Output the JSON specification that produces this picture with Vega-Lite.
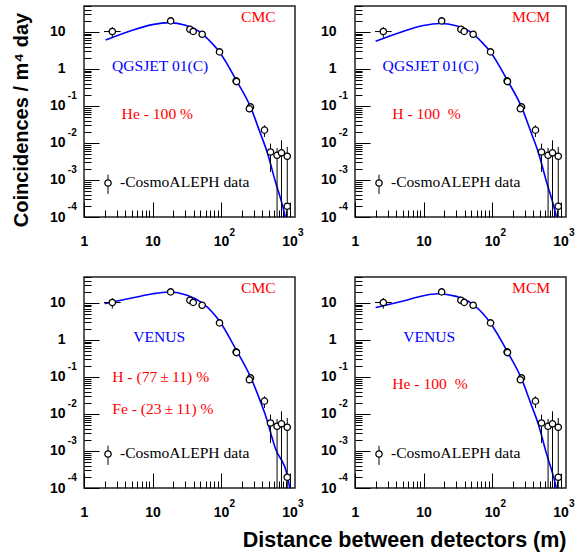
{
"$schema": "https://vega.github.io/schema/vega-lite/v6.json",
"padding": {"left": 10, "top": 4, "right": 2, "bottom": 2},
"background": "white",
"columns": 2,
"spacing": {"row": 60, "column": 60},
"bounds": "flush",
"config": {
 "view": {"stroke": "#222222", "strokeWidth": 1.5},
 "axis": {"domain": false, "grid": false, "tickColor": "black", "tickWidth": 1, "labelFont": "Liberation Sans", "labelFontWeight": "bold", "labelColor": "black", "labelOverlap": false, "labelFlush": false, "labelBound": false, "titleFont": "Liberation Sans", "titleFontWeight": "bold", "titleColor": "black"}
},
"datasets": {
 "points": [
  {"x": 2.59, "y": 10.2, "ylo": 7.0, "yhi": 13.5, "xlo": 1.96, "xhi": 3.43},
  {"x": 18.4, "y": 19.8, "ylo": 18.0, "yhi": 21.8},
  {"x": 35.1, "y": 11.8, "ylo": 11.0, "yhi": 12.6},
  {"x": 39.2, "y": 10.3, "ylo": 9.7, "yhi": 11.0},
  {"x": 53, "y": 8.66, "ylo": 8.1, "yhi": 9.3},
  {"x": 95, "y": 2.88, "ylo": 2.7, "yhi": 3.1},
  {"x": 166, "y": 0.475, "ylo": 0.44, "yhi": 0.51},
  {"x": 168, "y": 0.455, "ylo": 0.42, "yhi": 0.49},
  {"x": 269, "y": 0.094, "ylo": 0.086, "yhi": 0.103},
  {"x": 259, "y": 0.084, "ylo": 0.077, "yhi": 0.092},
  {"x": 430, "y": 0.0222, "ylo": 0.0145, "yhi": 0.0299},
  {"x": 527, "y": 0.0057, "ylo": 0.00164, "yhi": 0.0096},
  {"x": 657, "y": 0.00466, "ylo": 0.000001, "yhi": 0.0073},
  {"x": 762, "y": 0.0054, "ylo": 0.000001, "yhi": 0.0118},
  {"x": 925, "y": 0.00436, "ylo": 0.00026, "yhi": 0.0078},
  {"x": 925, "y": 0.000195, "ylo": 0.000001, "yhi": 0.00026}
 ],
 "legend": [
  {"x": 2.24, "y": 0.00083, "ylo": 0.00042, "yhi": 0.00139, "tx": 3.35, "ty": 0.000647, "text": "-CosmoALEPH data"}
 ],
 "notes": [
  {"panel": 1, "x": 196, "y": 18.6, "text": "CMC", "kind": "det"},
  {"panel": 1, "x": 2.56, "y": 0.9, "text": "QGSJET 01(C)", "kind": "model"},
  {"panel": 1, "x": 3.54, "y": 0.0454, "text": "He - 100 %", "kind": "comp"},
  {"panel": 2, "x": 196, "y": 18.6, "text": "MCM", "kind": "det"},
  {"panel": 2, "x": 2.53, "y": 0.9, "text": "QGSJET 01(C)", "kind": "model"},
  {"panel": 2, "x": 3.5, "y": 0.0454, "text": "H - 100\u00a0 %", "kind": "comp"},
  {"panel": 3, "x": 196, "y": 18.6, "text": "CMC", "kind": "det"},
  {"panel": 3, "x": 5.23, "y": 0.9, "text": "VENUS", "kind": "model"},
  {"panel": 3, "x": 2.58, "y": 0.0733, "text": "H - (77\u2009\u00b1\u200911) %", "kind": "comp"},
  {"panel": 3, "x": 2.58, "y": 0.0098, "text": "Fe - (23\u2009\u00b1\u200911) %", "kind": "comp"},
  {"panel": 4, "x": 196, "y": 18.6, "text": "MCM", "kind": "det"},
  {"panel": 4, "x": 5.06, "y": 0.9, "text": "VENUS", "kind": "model"},
  {"panel": 4, "x": 3.5, "y": 0.047, "text": "He - 100\u00a0 %", "kind": "comp"}
 ],
 "curves": [
  {"panel": 1, "x": 2.07, "y": 6.0}, {"panel": 1, "x": 5.06, "y": 11.1}, {"panel": 1, "x": 9.9, "y": 15.7}, {"panel": 1, "x": 17.3, "y": 17.8},
  {"panel": 1, "x": 30.4, "y": 15.2}, {"panel": 1, "x": 53, "y": 9.0}, {"panel": 1, "x": 70.3, "y": 5.4}, {"panel": 1, "x": 93, "y": 3.0},
  {"panel": 1, "x": 172, "y": 0.446}, {"panel": 1, "x": 269, "y": 0.094}, {"panel": 1, "x": 368, "y": 0.0198}, {"panel": 1, "x": 470, "y": 0.0057},
  {"panel": 1, "x": 623, "y": 0.00088}, {"panel": 1, "x": 823, "y": 0.00015}, {"panel": 1, "x": 865, "y": 0.0001}, {"panel": 1, "x": 1000, "y": 0.00004},
  {"panel": 2, "x": 2.0, "y": 5.6}, {"panel": 2, "x": 5.0, "y": 10.3}, {"panel": 2, "x": 9.9, "y": 14.8}, {"panel": 2, "x": 17.3, "y": 16.9},
  {"panel": 2, "x": 30, "y": 14.6}, {"panel": 2, "x": 53, "y": 8.8}, {"panel": 2, "x": 70, "y": 5.4}, {"panel": 2, "x": 93, "y": 3.0},
  {"panel": 2, "x": 172, "y": 0.45}, {"panel": 2, "x": 269, "y": 0.094}, {"panel": 2, "x": 368, "y": 0.02}, {"panel": 2, "x": 470, "y": 0.0058},
  {"panel": 2, "x": 623, "y": 0.0009}, {"panel": 2, "x": 823, "y": 0.000155}, {"panel": 2, "x": 870, "y": 0.0001}, {"panel": 2, "x": 1000, "y": 0.00004},
  {"panel": 3, "x": 2.0, "y": 9.6}, {"panel": 3, "x": 5.4, "y": 13.9}, {"panel": 3, "x": 10, "y": 17.6}, {"panel": 3, "x": 17.3, "y": 19.6},
  {"panel": 3, "x": 32, "y": 16.1}, {"panel": 3, "x": 53, "y": 10.0}, {"panel": 3, "x": 74, "y": 5.7}, {"panel": 3, "x": 93, "y": 3.4},
  {"panel": 3, "x": 172, "y": 0.48}, {"panel": 3, "x": 269, "y": 0.1}, {"panel": 3, "x": 368, "y": 0.024}, {"panel": 3, "x": 445, "y": 0.0092},
  {"panel": 3, "x": 623, "y": 0.00115}, {"panel": 3, "x": 931, "y": 0.00021}, {"panel": 3, "x": 997, "y": 0.000109}, {"panel": 3, "x": 1100, "y": 0.00005},
  {"panel": 4, "x": 2.0, "y": 7.5}, {"panel": 4, "x": 5.06, "y": 11.3}, {"panel": 4, "x": 10, "y": 15.6}, {"panel": 4, "x": 16, "y": 17.6},
  {"panel": 4, "x": 30, "y": 15.0}, {"panel": 4, "x": 53, "y": 9.0}, {"panel": 4, "x": 74, "y": 5.1}, {"panel": 4, "x": 93, "y": 3.0},
  {"panel": 4, "x": 172, "y": 0.44}, {"panel": 4, "x": 269, "y": 0.09}, {"panel": 4, "x": 368, "y": 0.019}, {"panel": 4, "x": 470, "y": 0.0055},
  {"panel": 4, "x": 623, "y": 0.00085}, {"panel": 4, "x": 823, "y": 0.00015}, {"panel": 4, "x": 865, "y": 0.0001}, {"panel": 4, "x": 1000, "y": 0.00004}
 ]
},
"concat": [
 {"width": 211, "height": 211, "resolve": {"axis": {"x": "independent", "y": "independent"}}, "layer": [
  {"data": {"name": "curves"}, "transform": [{"filter": "datum.panel == 1"}], "mark": {"type": "line", "color": "#0000ff", "strokeWidth": 1.6, "clip": true, "interpolate": "monotone"},
   "encoding": {
    "x": {"field": "x", "type": "quantitative", "scale": {"type": "log", "domain": [1, 1200], "nice": false},
     "axis": {"orient": "bottom", "values": [1,2,3,4,5,6,7,8,9,10,20,30,40,50,60,70,80,90,100,200,300,400,500,600,700,800,900,1000], "labelExpr": "datum.value == 1 ? '1' : (datum.value == 10 || datum.value == 100 || datum.value == 1000) ? '10' : ''", "labelFontSize": {"condition": {"test": "datum.value == 1 || datum.value == 10 || datum.value == 100 || datum.value == 1000", "value": 14}, "value": 0}, "tickSize": {"condition": {"test": "datum.value == 1 || datum.value == 10 || datum.value == 100 || datum.value == 1000", "value": -15}, "value": -7}, "labelPadding": 32, "title": null}},
    "y": {"field": "y", "type": "quantitative", "scale": {"type": "log", "domain": [0.0001, 50], "nice": false},
     "axis": {"orient": "left", "values": [0.0001,0.0002,0.0003,0.0004,0.0005,0.0006,0.0007,0.0008,0.0009,0.001,0.002,0.003,0.004,0.005,0.006,0.007,0.008,0.009,0.01,0.02,0.03,0.04,0.05,0.06,0.07,0.08,0.09,0.1,0.2,0.3,0.4,0.5,0.6,0.7,0.8,0.9,1,2,3,4,5,6,7,8,9,10,20,30,40,50], "labelExpr": "datum.value == 1 ? '1' : (datum.value == 10 || datum.value == 0.1 || datum.value == 0.01 || datum.value == 0.001 || datum.value == 0.0001) ? '10' : ''", "labelFontSize": {"condition": {"test": "datum.value == 10 || datum.value == 1 || datum.value == 0.1 || datum.value == 0.01 || datum.value == 0.001 || datum.value == 0.0001", "value": 14}, "value": 0}, "tickSize": {"condition": {"test": "datum.value == 10 || datum.value == 1 || datum.value == 0.1 || datum.value == 0.01 || datum.value == 0.001 || datum.value == 0.0001", "value": -15}, "value": -7}, "labelPadding": 34,
      "title": "Coincidences / m\u2074 day", "titleFontSize": 20, "titleAngle": 270, "titleAlign": "center", "titleBaseline": "alphabetic", "titleX": -57, "titleY": 113.5}}
   }},
  {"data": {"name": "points"}, "mark": {"type": "rule", "color": "black", "strokeWidth": 1, "clip": true}, "encoding": {"x": {"field": "x", "type": "quantitative", "scale": {"type": "log", "domain": [1, 1200], "nice": false}, "axis": null}, "y": {"field": "ylo", "type": "quantitative", "scale": {"type": "log", "domain": [0.0001, 50], "nice": false}, "axis": null}, "y2": {"field": "yhi"}}},
  {"data": {"name": "points"}, "transform": [{"filter": "isValid(datum.xlo)"}], "mark": {"type": "rule", "color": "black", "strokeWidth": 1, "clip": true}, "encoding": {"x": {"field": "xlo", "type": "quantitative", "scale": {"type": "log", "domain": [1, 1200], "nice": false}, "axis": null}, "x2": {"field": "xhi"}, "y": {"field": "y", "type": "quantitative", "scale": {"type": "log", "domain": [0.0001, 50], "nice": false}, "axis": null}}},
  {"data": {"name": "points"}, "mark": {"type": "point", "shape": "circle", "size": 40, "fill": "white", "stroke": "black", "strokeWidth": 1.3, "opacity": 1, "clip": true}, "encoding": {
    "x": {"field": "x", "type": "quantitative", "scale": {"type": "log", "domain": [1, 1200], "nice": false}, "axis": {"orient": "bottom", "values": [100, 1000], "ticks": false, "labelExpr": "datum.value == 100 ? '2' : '3'", "labelFontSize": 10, "labelAlign": "left", "labelOffset": 8, "labelPadding": 10, "title": null}},
    "y": {"field": "y", "type": "quantitative", "scale": {"type": "log", "domain": [0.0001, 50], "nice": false}, "axis": {"orient": "left", "values": [0.1, 0.01, 0.001, 0.0001], "ticks": false, "labelExpr": "datum.value == 0.1 ? '-1' : datum.value == 0.01 ? '-2' : datum.value == 0.001 ? '-3' : '-4'", "labelFontSize": 10, "labelAlign": "left", "labelOffset": -10.5, "labelPadding": 16.7, "title": null}}}},
  {"data": {"name": "legend"}, "mark": {"type": "rule", "color": "black", "strokeWidth": 1}, "encoding": {"x": {"field": "x", "type": "quantitative", "scale": {"type": "log", "domain": [1, 1200], "nice": false}, "axis": null}, "y": {"field": "ylo", "type": "quantitative", "scale": {"type": "log", "domain": [0.0001, 50], "nice": false}, "axis": null}, "y2": {"field": "yhi"}}},
  {"data": {"name": "legend"}, "mark": {"type": "point", "shape": "circle", "size": 40, "fill": "white", "stroke": "black", "strokeWidth": 1.3, "opacity": 1}, "encoding": {"x": {"field": "x", "type": "quantitative", "scale": {"type": "log", "domain": [1, 1200], "nice": false}, "axis": null}, "y": {"field": "y", "type": "quantitative", "scale": {"type": "log", "domain": [0.0001, 50], "nice": false}, "axis": null}}},
  {"data": {"name": "legend"}, "mark": {"type": "text", "align": "left", "baseline": "alphabetic", "font": "Liberation Serif", "fontSize": 15.6, "color": "black"}, "encoding": {"x": {"field": "tx", "type": "quantitative", "scale": {"type": "log", "domain": [1, 1200], "nice": false}, "axis": null}, "y": {"field": "ty", "type": "quantitative", "scale": {"type": "log", "domain": [0.0001, 50], "nice": false}, "axis": null}, "text": {"field": "text"}}},
  {"data": {"name": "notes"}, "transform": [{"filter": "datum.panel == 1"}], "mark": {"type": "text", "align": "left", "baseline": "alphabetic", "font": "Liberation Serif", "fontSize": 15.6}, "encoding": {"x": {"field": "x", "type": "quantitative", "scale": {"type": "log", "domain": [1, 1200], "nice": false}, "axis": null}, "y": {"field": "y", "type": "quantitative", "scale": {"type": "log", "domain": [0.0001, 50], "nice": false}, "axis": null}, "text": {"field": "text"}, "color": {"field": "kind", "type": "nominal", "scale": {"domain": ["det", "model", "comp"], "range": ["#ff0000", "#0000ff", "#ff0000"]}, "legend": null}}}
 ]},
 {"width": 211, "height": 211, "resolve": {"axis": {"x": "independent", "y": "independent"}}, "layer": [
  {"data": {"name": "curves"}, "transform": [{"filter": "datum.panel == 2"}], "mark": {"type": "line", "color": "#0000ff", "strokeWidth": 1.6, "clip": true, "interpolate": "monotone"},
   "encoding": {
    "x": {"field": "x", "type": "quantitative", "scale": {"type": "log", "domain": [1, 1200], "nice": false},
     "axis": {"orient": "bottom", "values": [1,2,3,4,5,6,7,8,9,10,20,30,40,50,60,70,80,90,100,200,300,400,500,600,700,800,900,1000], "labelExpr": "datum.value == 1 ? '1' : (datum.value == 10 || datum.value == 100 || datum.value == 1000) ? '10' : ''", "labelFontSize": {"condition": {"test": "datum.value == 1 || datum.value == 10 || datum.value == 100 || datum.value == 1000", "value": 14}, "value": 0}, "tickSize": {"condition": {"test": "datum.value == 1 || datum.value == 10 || datum.value == 100 || datum.value == 1000", "value": -15}, "value": -7}, "labelPadding": 32, "title": null}},
    "y": {"field": "y", "type": "quantitative", "scale": {"type": "log", "domain": [0.0001, 50], "nice": false},
     "axis": {"orient": "left", "values": [0.0001,0.0002,0.0003,0.0004,0.0005,0.0006,0.0007,0.0008,0.0009,0.001,0.002,0.003,0.004,0.005,0.006,0.007,0.008,0.009,0.01,0.02,0.03,0.04,0.05,0.06,0.07,0.08,0.09,0.1,0.2,0.3,0.4,0.5,0.6,0.7,0.8,0.9,1,2,3,4,5,6,7,8,9,10,20,30,40,50], "labelExpr": "datum.value == 1 ? '1' : (datum.value == 10 || datum.value == 0.1 || datum.value == 0.01 || datum.value == 0.001 || datum.value == 0.0001) ? '10' : ''", "labelFontSize": {"condition": {"test": "datum.value == 10 || datum.value == 1 || datum.value == 0.1 || datum.value == 0.01 || datum.value == 0.001 || datum.value == 0.0001", "value": 14}, "value": 0}, "tickSize": {"condition": {"test": "datum.value == 10 || datum.value == 1 || datum.value == 0.1 || datum.value == 0.01 || datum.value == 0.001 || datum.value == 0.0001", "value": -15}, "value": -7}, "labelPadding": 34, "title": null}}
   }},
  {"data": {"name": "points"}, "mark": {"type": "rule", "color": "black", "strokeWidth": 1, "clip": true}, "encoding": {"x": {"field": "x", "type": "quantitative", "scale": {"type": "log", "domain": [1, 1200], "nice": false}, "axis": null}, "y": {"field": "ylo", "type": "quantitative", "scale": {"type": "log", "domain": [0.0001, 50], "nice": false}, "axis": null}, "y2": {"field": "yhi"}}},
  {"data": {"name": "points"}, "transform": [{"filter": "isValid(datum.xlo)"}], "mark": {"type": "rule", "color": "black", "strokeWidth": 1, "clip": true}, "encoding": {"x": {"field": "xlo", "type": "quantitative", "scale": {"type": "log", "domain": [1, 1200], "nice": false}, "axis": null}, "x2": {"field": "xhi"}, "y": {"field": "y", "type": "quantitative", "scale": {"type": "log", "domain": [0.0001, 50], "nice": false}, "axis": null}}},
  {"data": {"name": "points"}, "mark": {"type": "point", "shape": "circle", "size": 40, "fill": "white", "stroke": "black", "strokeWidth": 1.3, "opacity": 1, "clip": true}, "encoding": {
    "x": {"field": "x", "type": "quantitative", "scale": {"type": "log", "domain": [1, 1200], "nice": false}, "axis": {"orient": "bottom", "values": [100, 1000], "ticks": false, "labelExpr": "datum.value == 100 ? '2' : '3'", "labelFontSize": 10, "labelAlign": "left", "labelOffset": 8, "labelPadding": 10, "title": null}},
    "y": {"field": "y", "type": "quantitative", "scale": {"type": "log", "domain": [0.0001, 50], "nice": false}, "axis": {"orient": "left", "values": [0.1, 0.01, 0.001, 0.0001], "ticks": false, "labelExpr": "datum.value == 0.1 ? '-1' : datum.value == 0.01 ? '-2' : datum.value == 0.001 ? '-3' : '-4'", "labelFontSize": 10, "labelAlign": "left", "labelOffset": -10.5, "labelPadding": 16.7, "title": null}}}},
  {"data": {"name": "legend"}, "mark": {"type": "rule", "color": "black", "strokeWidth": 1}, "encoding": {"x": {"field": "x", "type": "quantitative", "scale": {"type": "log", "domain": [1, 1200], "nice": false}, "axis": null}, "y": {"field": "ylo", "type": "quantitative", "scale": {"type": "log", "domain": [0.0001, 50], "nice": false}, "axis": null}, "y2": {"field": "yhi"}}},
  {"data": {"name": "legend"}, "mark": {"type": "point", "shape": "circle", "size": 40, "fill": "white", "stroke": "black", "strokeWidth": 1.3, "opacity": 1}, "encoding": {"x": {"field": "x", "type": "quantitative", "scale": {"type": "log", "domain": [1, 1200], "nice": false}, "axis": null}, "y": {"field": "y", "type": "quantitative", "scale": {"type": "log", "domain": [0.0001, 50], "nice": false}, "axis": null}}},
  {"data": {"name": "legend"}, "mark": {"type": "text", "align": "left", "baseline": "alphabetic", "font": "Liberation Serif", "fontSize": 15.6, "color": "black"}, "encoding": {"x": {"field": "tx", "type": "quantitative", "scale": {"type": "log", "domain": [1, 1200], "nice": false}, "axis": null}, "y": {"field": "ty", "type": "quantitative", "scale": {"type": "log", "domain": [0.0001, 50], "nice": false}, "axis": null}, "text": {"field": "text"}}},
  {"data": {"name": "notes"}, "transform": [{"filter": "datum.panel == 2"}], "mark": {"type": "text", "align": "left", "baseline": "alphabetic", "font": "Liberation Serif", "fontSize": 15.6}, "encoding": {"x": {"field": "x", "type": "quantitative", "scale": {"type": "log", "domain": [1, 1200], "nice": false}, "axis": null}, "y": {"field": "y", "type": "quantitative", "scale": {"type": "log", "domain": [0.0001, 50], "nice": false}, "axis": null}, "text": {"field": "text"}, "color": {"field": "kind", "type": "nominal", "scale": {"domain": ["det", "model", "comp"], "range": ["#ff0000", "#0000ff", "#ff0000"]}, "legend": null}}}
 ]},
 {"width": 211, "height": 211, "resolve": {"axis": {"x": "independent", "y": "independent"}}, "layer": [
  {"data": {"name": "curves"}, "transform": [{"filter": "datum.panel == 3"}], "mark": {"type": "line", "color": "#0000ff", "strokeWidth": 1.6, "clip": true, "interpolate": "monotone"},
   "encoding": {
    "x": {"field": "x", "type": "quantitative", "scale": {"type": "log", "domain": [1, 1200], "nice": false},
     "axis": {"orient": "bottom", "values": [1,2,3,4,5,6,7,8,9,10,20,30,40,50,60,70,80,90,100,200,300,400,500,600,700,800,900,1000], "labelExpr": "datum.value == 1 ? '1' : (datum.value == 10 || datum.value == 100 || datum.value == 1000) ? '10' : ''", "labelFontSize": {"condition": {"test": "datum.value == 1 || datum.value == 10 || datum.value == 100 || datum.value == 1000", "value": 14}, "value": 0}, "tickSize": {"condition": {"test": "datum.value == 1 || datum.value == 10 || datum.value == 100 || datum.value == 1000", "value": -15}, "value": -7}, "labelPadding": 32, "title": null}},
    "y": {"field": "y", "type": "quantitative", "scale": {"type": "log", "domain": [0.0001, 50], "nice": false},
     "axis": {"orient": "left", "values": [0.0001,0.0002,0.0003,0.0004,0.0005,0.0006,0.0007,0.0008,0.0009,0.001,0.002,0.003,0.004,0.005,0.006,0.007,0.008,0.009,0.01,0.02,0.03,0.04,0.05,0.06,0.07,0.08,0.09,0.1,0.2,0.3,0.4,0.5,0.6,0.7,0.8,0.9,1,2,3,4,5,6,7,8,9,10,20,30,40,50], "labelExpr": "datum.value == 1 ? '1' : (datum.value == 10 || datum.value == 0.1 || datum.value == 0.01 || datum.value == 0.001 || datum.value == 0.0001) ? '10' : ''", "labelFontSize": {"condition": {"test": "datum.value == 10 || datum.value == 1 || datum.value == 0.1 || datum.value == 0.01 || datum.value == 0.001 || datum.value == 0.0001", "value": 14}, "value": 0}, "tickSize": {"condition": {"test": "datum.value == 10 || datum.value == 1 || datum.value == 0.1 || datum.value == 0.01 || datum.value == 0.001 || datum.value == 0.0001", "value": -15}, "value": -7}, "labelPadding": 34, "title": null}}
   }},
  {"data": {"name": "points"}, "mark": {"type": "rule", "color": "black", "strokeWidth": 1, "clip": true}, "encoding": {"x": {"field": "x", "type": "quantitative", "scale": {"type": "log", "domain": [1, 1200], "nice": false}, "axis": null}, "y": {"field": "ylo", "type": "quantitative", "scale": {"type": "log", "domain": [0.0001, 50], "nice": false}, "axis": null}, "y2": {"field": "yhi"}}},
  {"data": {"name": "points"}, "transform": [{"filter": "isValid(datum.xlo)"}], "mark": {"type": "rule", "color": "black", "strokeWidth": 1, "clip": true}, "encoding": {"x": {"field": "xlo", "type": "quantitative", "scale": {"type": "log", "domain": [1, 1200], "nice": false}, "axis": null}, "x2": {"field": "xhi"}, "y": {"field": "y", "type": "quantitative", "scale": {"type": "log", "domain": [0.0001, 50], "nice": false}, "axis": null}}},
  {"data": {"name": "points"}, "mark": {"type": "point", "shape": "circle", "size": 40, "fill": "white", "stroke": "black", "strokeWidth": 1.3, "opacity": 1, "clip": true}, "encoding": {
    "x": {"field": "x", "type": "quantitative", "scale": {"type": "log", "domain": [1, 1200], "nice": false}, "axis": {"orient": "bottom", "values": [100, 1000], "ticks": false, "labelExpr": "datum.value == 100 ? '2' : '3'", "labelFontSize": 10, "labelAlign": "left", "labelOffset": 8, "labelPadding": 10, "title": null}},
    "y": {"field": "y", "type": "quantitative", "scale": {"type": "log", "domain": [0.0001, 50], "nice": false}, "axis": {"orient": "left", "values": [0.1, 0.01, 0.001, 0.0001], "ticks": false, "labelExpr": "datum.value == 0.1 ? '-1' : datum.value == 0.01 ? '-2' : datum.value == 0.001 ? '-3' : '-4'", "labelFontSize": 10, "labelAlign": "left", "labelOffset": -10.5, "labelPadding": 16.7, "title": null}}}},
  {"data": {"name": "legend"}, "mark": {"type": "rule", "color": "black", "strokeWidth": 1}, "encoding": {"x": {"field": "x", "type": "quantitative", "scale": {"type": "log", "domain": [1, 1200], "nice": false}, "axis": null}, "y": {"field": "ylo", "type": "quantitative", "scale": {"type": "log", "domain": [0.0001, 50], "nice": false}, "axis": null}, "y2": {"field": "yhi"}}},
  {"data": {"name": "legend"}, "mark": {"type": "point", "shape": "circle", "size": 40, "fill": "white", "stroke": "black", "strokeWidth": 1.3, "opacity": 1}, "encoding": {"x": {"field": "x", "type": "quantitative", "scale": {"type": "log", "domain": [1, 1200], "nice": false}, "axis": null}, "y": {"field": "y", "type": "quantitative", "scale": {"type": "log", "domain": [0.0001, 50], "nice": false}, "axis": null}}},
  {"data": {"name": "legend"}, "mark": {"type": "text", "align": "left", "baseline": "alphabetic", "font": "Liberation Serif", "fontSize": 15.6, "color": "black"}, "encoding": {"x": {"field": "tx", "type": "quantitative", "scale": {"type": "log", "domain": [1, 1200], "nice": false}, "axis": null}, "y": {"field": "ty", "type": "quantitative", "scale": {"type": "log", "domain": [0.0001, 50], "nice": false}, "axis": null}, "text": {"field": "text"}}},
  {"data": {"name": "notes"}, "transform": [{"filter": "datum.panel == 3"}], "mark": {"type": "text", "align": "left", "baseline": "alphabetic", "font": "Liberation Serif", "fontSize": 15.6}, "encoding": {"x": {"field": "x", "type": "quantitative", "scale": {"type": "log", "domain": [1, 1200], "nice": false}, "axis": null}, "y": {"field": "y", "type": "quantitative", "scale": {"type": "log", "domain": [0.0001, 50], "nice": false}, "axis": null}, "text": {"field": "text"}, "color": {"field": "kind", "type": "nominal", "scale": {"domain": ["det", "model", "comp"], "range": ["#ff0000", "#0000ff", "#ff0000"]}, "legend": null}}}
 ]},
 {"width": 211, "height": 211, "resolve": {"axis": {"x": "independent", "y": "independent"}}, "layer": [
  {"data": {"name": "curves"}, "transform": [{"filter": "datum.panel == 4"}], "mark": {"type": "line", "color": "#0000ff", "strokeWidth": 1.6, "clip": true, "interpolate": "monotone"},
   "encoding": {
    "x": {"field": "x", "type": "quantitative", "scale": {"type": "log", "domain": [1, 1200], "nice": false},
     "axis": {"orient": "bottom", "values": [1,2,3,4,5,6,7,8,9,10,20,30,40,50,60,70,80,90,100,200,300,400,500,600,700,800,900,1000], "labelExpr": "datum.value == 1 ? '1' : (datum.value == 10 || datum.value == 100 || datum.value == 1000) ? '10' : ''", "labelFontSize": {"condition": {"test": "datum.value == 1 || datum.value == 10 || datum.value == 100 || datum.value == 1000", "value": 14}, "value": 0}, "tickSize": {"condition": {"test": "datum.value == 1 || datum.value == 10 || datum.value == 100 || datum.value == 1000", "value": -15}, "value": -7}, "labelPadding": 32,
      "title": "Distance between detectors (m)", "titleFontSize": 21.5, "titleAngle": 0, "titleAlign": "right", "titleAnchor": "end", "titleBaseline": "alphabetic", "titleX": 211, "titleY": 58}},
    "y": {"field": "y", "type": "quantitative", "scale": {"type": "log", "domain": [0.0001, 50], "nice": false},
     "axis": {"orient": "left", "values": [0.0001,0.0002,0.0003,0.0004,0.0005,0.0006,0.0007,0.0008,0.0009,0.001,0.002,0.003,0.004,0.005,0.006,0.007,0.008,0.009,0.01,0.02,0.03,0.04,0.05,0.06,0.07,0.08,0.09,0.1,0.2,0.3,0.4,0.5,0.6,0.7,0.8,0.9,1,2,3,4,5,6,7,8,9,10,20,30,40,50], "labelExpr": "datum.value == 1 ? '1' : (datum.value == 10 || datum.value == 0.1 || datum.value == 0.01 || datum.value == 0.001 || datum.value == 0.0001) ? '10' : ''", "labelFontSize": {"condition": {"test": "datum.value == 10 || datum.value == 1 || datum.value == 0.1 || datum.value == 0.01 || datum.value == 0.001 || datum.value == 0.0001", "value": 14}, "value": 0}, "tickSize": {"condition": {"test": "datum.value == 10 || datum.value == 1 || datum.value == 0.1 || datum.value == 0.01 || datum.value == 0.001 || datum.value == 0.0001", "value": -15}, "value": -7}, "labelPadding": 34, "title": null}}
   }},
  {"data": {"name": "points"}, "mark": {"type": "rule", "color": "black", "strokeWidth": 1, "clip": true}, "encoding": {"x": {"field": "x", "type": "quantitative", "scale": {"type": "log", "domain": [1, 1200], "nice": false}, "axis": null}, "y": {"field": "ylo", "type": "quantitative", "scale": {"type": "log", "domain": [0.0001, 50], "nice": false}, "axis": null}, "y2": {"field": "yhi"}}},
  {"data": {"name": "points"}, "transform": [{"filter": "isValid(datum.xlo)"}], "mark": {"type": "rule", "color": "black", "strokeWidth": 1, "clip": true}, "encoding": {"x": {"field": "xlo", "type": "quantitative", "scale": {"type": "log", "domain": [1, 1200], "nice": false}, "axis": null}, "x2": {"field": "xhi"}, "y": {"field": "y", "type": "quantitative", "scale": {"type": "log", "domain": [0.0001, 50], "nice": false}, "axis": null}}},
  {"data": {"name": "points"}, "mark": {"type": "point", "shape": "circle", "size": 40, "fill": "white", "stroke": "black", "strokeWidth": 1.3, "opacity": 1, "clip": true}, "encoding": {
    "x": {"field": "x", "type": "quantitative", "scale": {"type": "log", "domain": [1, 1200], "nice": false}, "axis": {"orient": "bottom", "values": [100, 1000], "ticks": false, "labelExpr": "datum.value == 100 ? '2' : '3'", "labelFontSize": 10, "labelAlign": "left", "labelOffset": 8, "labelPadding": 10, "title": null}},
    "y": {"field": "y", "type": "quantitative", "scale": {"type": "log", "domain": [0.0001, 50], "nice": false}, "axis": {"orient": "left", "values": [0.1, 0.01, 0.001, 0.0001], "ticks": false, "labelExpr": "datum.value == 0.1 ? '-1' : datum.value == 0.01 ? '-2' : datum.value == 0.001 ? '-3' : '-4'", "labelFontSize": 10, "labelAlign": "left", "labelOffset": -10.5, "labelPadding": 16.7, "title": null}}}},
  {"data": {"name": "legend"}, "mark": {"type": "rule", "color": "black", "strokeWidth": 1}, "encoding": {"x": {"field": "x", "type": "quantitative", "scale": {"type": "log", "domain": [1, 1200], "nice": false}, "axis": null}, "y": {"field": "ylo", "type": "quantitative", "scale": {"type": "log", "domain": [0.0001, 50], "nice": false}, "axis": null}, "y2": {"field": "yhi"}}},
  {"data": {"name": "legend"}, "mark": {"type": "point", "shape": "circle", "size": 40, "fill": "white", "stroke": "black", "strokeWidth": 1.3, "opacity": 1}, "encoding": {"x": {"field": "x", "type": "quantitative", "scale": {"type": "log", "domain": [1, 1200], "nice": false}, "axis": null}, "y": {"field": "y", "type": "quantitative", "scale": {"type": "log", "domain": [0.0001, 50], "nice": false}, "axis": null}}},
  {"data": {"name": "legend"}, "mark": {"type": "text", "align": "left", "baseline": "alphabetic", "font": "Liberation Serif", "fontSize": 15.6, "color": "black"}, "encoding": {"x": {"field": "tx", "type": "quantitative", "scale": {"type": "log", "domain": [1, 1200], "nice": false}, "axis": null}, "y": {"field": "ty", "type": "quantitative", "scale": {"type": "log", "domain": [0.0001, 50], "nice": false}, "axis": null}, "text": {"field": "text"}}},
  {"data": {"name": "notes"}, "transform": [{"filter": "datum.panel == 4"}], "mark": {"type": "text", "align": "left", "baseline": "alphabetic", "font": "Liberation Serif", "fontSize": 15.6}, "encoding": {"x": {"field": "x", "type": "quantitative", "scale": {"type": "log", "domain": [1, 1200], "nice": false}, "axis": null}, "y": {"field": "y", "type": "quantitative", "scale": {"type": "log", "domain": [0.0001, 50], "nice": false}, "axis": null}, "text": {"field": "text"}, "color": {"field": "kind", "type": "nominal", "scale": {"domain": ["det", "model", "comp"], "range": ["#ff0000", "#0000ff", "#ff0000"]}, "legend": null}}}
 ]}
]
}
